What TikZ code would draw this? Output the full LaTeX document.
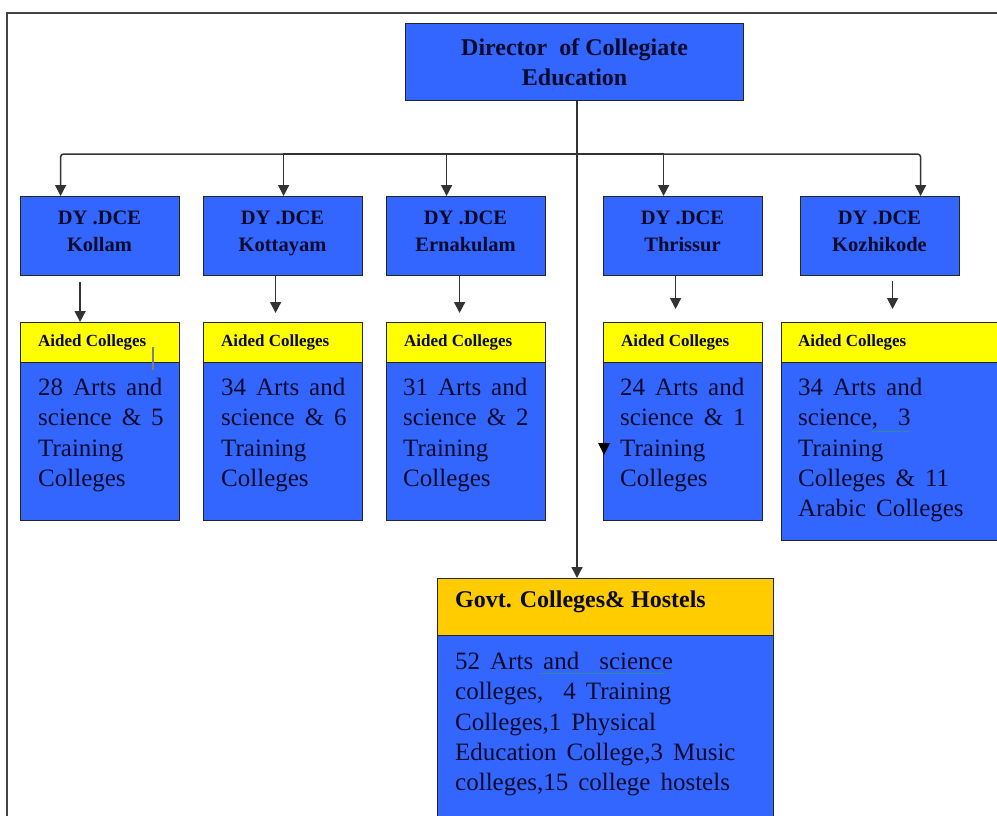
\documentclass[tikz,border=0pt]{standalone}
\usepackage{fontspec}
\setmainfont{Liberation Serif}
\usetikzlibrary{arrows.meta}
\definecolor{boxblue}{HTML}{3366FF}
\definecolor{hdyellow}{HTML}{FFFF00}
\definecolor{hdorange}{HTML}{FFCC00}
\definecolor{ink}{HTML}{0A0A2A}
\definecolor{framegray}{HTML}{444444}
\definecolor{linegray}{HTML}{333333}
\definecolor{squig}{HTML}{2E8B9A}
\newcommand{\bodyfnt}{\fontsize{25}{30.3}\selectfont\spaceskip=0.4em plus 0.1em\relax}
\begin{document}
\begin{tikzpicture}[x=1pt,y=-1pt,
  box/.style={draw=black!85, line width=1.2pt, inner sep=0pt, anchor=north west, text=ink},
  bluebox/.style={box, fill=boxblue},
  yelbox/.style={box, fill=hdyellow},
  orgbox/.style={box, fill=hdorange},
  dirtext/.style={font=\fontsize{24}{30}\selectfont\bfseries, align=center},
  dytext/.style={font=\fontsize{20.5}{27}\selectfont\bfseries, align=center, anchor=north, text=ink, inner sep=0pt},
  bodytext/.style={anchor=north west, inner sep=0pt, align=left, font=\bodyfnt, text=ink},
  aidedlbl/.style={anchor=west, inner sep=0pt, font=\fontsize{17}{19}\selectfont\bfseries, text=ink},
  govtlbl/.style={anchor=west, inner sep=0pt, font=\fontsize{24}{28}\selectfont\bfseries, text=ink},
  arr/.style={draw=linegray, line width=1.5pt, -{Triangle[length=11pt,width=11pt]}},
  frame/.style={draw=framegray, line width=2pt}]
\useasboundingbox (0,0) rectangle (997,816);
% frame
\draw[frame] (7,820) -- (7,13) -- (1000,13);
% director
\node[bluebox, minimum width=338pt, minimum height=77pt, dirtext] (dir) at (405,23) {Director\ \ of Collegiate\\Education};
% deputy boxes
\node[bluebox, minimum width=159pt, minimum height=79pt] (dy1) at (20,196) {};
\node[bluebox, minimum width=159pt, minimum height=79pt] (dy2) at (203,196) {};
\node[bluebox, minimum width=159pt, minimum height=79pt] (dy3) at (386,196) {};
\node[bluebox, minimum width=159pt, minimum height=79pt] (dy4) at (603,196) {};
\node[bluebox, minimum width=159pt, minimum height=79pt] (dy5) at (800,196) {};
\node[dytext] (dy1t) at (99.5,211) {DY .DCE\\Kollam};
\node[dytext] (dy2t) at (282.5,211) {DY .DCE\\Kottayam};
\node[dytext] (dy3t) at (465.5,211) {DY .DCE\\Ernakulam};
\node[dytext] (dy4t) at (682.5,211) {DY .DCE\\Thrissur};
\node[dytext] (dy5t) at (879.5,211) {DY .DCE\\Kozhikode};
% aided headers
\node[yelbox, minimum width=159pt, minimum height=40pt] (a1h) at (20,322) {};
\node[yelbox, minimum width=159pt, minimum height=40pt] (a2h) at (203,322) {};
\node[yelbox, minimum width=159pt, minimum height=40pt] (a3h) at (386,322) {};
\node[yelbox, minimum width=159pt, minimum height=40pt] (a4h) at (603,322) {};
\node[yelbox, minimum width=219pt, minimum height=40pt] (a5h) at (781,322) {};
% aided bodies
\node[bluebox, minimum width=159pt, minimum height=158pt] (a1b) at (20,362) {};
\node[bluebox, minimum width=159pt, minimum height=158pt] (a2b) at (203,362) {};
\node[bluebox, minimum width=159pt, minimum height=158pt] (a3b) at (386,362) {};
\node[bluebox, minimum width=159pt, minimum height=158pt] (a4b) at (603,362) {};
\node[bluebox, minimum width=219pt, minimum height=178pt] (a5b) at (781,362) {};
% aided labels
\node[aidedlbl] (a1l) at (38,342) {Aided Colleges};
\node[aidedlbl] (a2l) at (221,342) {Aided Colleges};
\node[aidedlbl] (a3l) at (404,342) {Aided Colleges};
\node[aidedlbl] (a4l) at (621,342) {Aided Colleges};
\node[aidedlbl] (a5l) at (798,342) {Aided Colleges};
% aided texts
\node[bodytext] (a1t) at (38,378) {28 Arts and\\science \& 5\\Training\\Colleges};
\node[bodytext] (a2t) at (221,378) {34 Arts and\\science \& 6\\Training\\Colleges};
\node[bodytext] (a3t) at (403,378) {31 Arts and\\science \& 2\\Training\\Colleges};
\node[bodytext] (a4t) at (620,378) {24 Arts and\\science \& 1\\Training\\Colleges};
\node[bodytext] (a5t) at (798,378) {34 Arts and\\science,\ \ 3\\Training\\Colleges \& 11\\Arabic Colleges};
% govt
\node[orgbox, minimum width=336pt, minimum height=57pt] (gh) at (437,578) {};
\node[bluebox, minimum width=336pt, minimum height=190pt] (gb) at (437,635) {};
\node[govtlbl] (ghl) at (455,602) {Govt. Colleges\& Hostels};
\node[bodytext] (gbt) at (455,652) {52 Arts and\ \ science\\colleges,\ \ 4 Training\\Colleges,1 Physical\\Education College,3 Music\\colleges,15 college hostels};
% connectors
\coordinate (bus) at (577,154);
\draw[arr] (dir.south -| bus) -- (gh.north -| bus);
\draw[arr, rounded corners=3pt] (bus) -| ([xshift=-39.5pt]dy1.north);
\draw[arr] (bus) -| ([xshift=0.5pt]dy2.north);
\draw[arr] (bus) -| ([xshift=-19.5pt]dy3.north);
\draw[arr] (bus) -| ([xshift=-19.5pt]dy4.north);
\draw[arr, rounded corners=3pt] (bus) -| ([xshift=40.5pt]dy5.north);
\coordinate (s1) at ([xshift=-20pt,yshift=-6pt]dy1.south);
\coordinate (s2) at ([xshift=-7.5pt]dy2.south);
\coordinate (s3) at ([xshift=-6.5pt]dy3.south);
\coordinate (s4) at ([xshift=-7.5pt]dy4.south);
\coordinate (s5) at ([xshift=12.5pt,yshift=-5pt]dy5.south);
\draw[arr] (s1) -- (s1 |- a1h.north);
\draw[arr, shorten >=9pt] (s2) -- (s2 |- a2h.north);
\draw[arr, shorten >=9pt] (s3) -- (s3 |- a3h.north);
\draw[arr, shorten >=13pt] (s4) -- (s4 |- a4h.north);
\draw[arr, shorten >=13pt] (s5) -- (s5 |- a5h.north);
% small marks seen in the picture
\draw[gray, line width=1.5pt] (153,347) -- (153,370);
\fill[black] (598,443) -- (610,443) -- (604,455) -- cycle;
\draw[squig, line width=1pt] (540,673) -- (665,673);
\draw[squig, line width=1pt] (872,431) -- (909,431);
\end{tikzpicture}
\end{document}
